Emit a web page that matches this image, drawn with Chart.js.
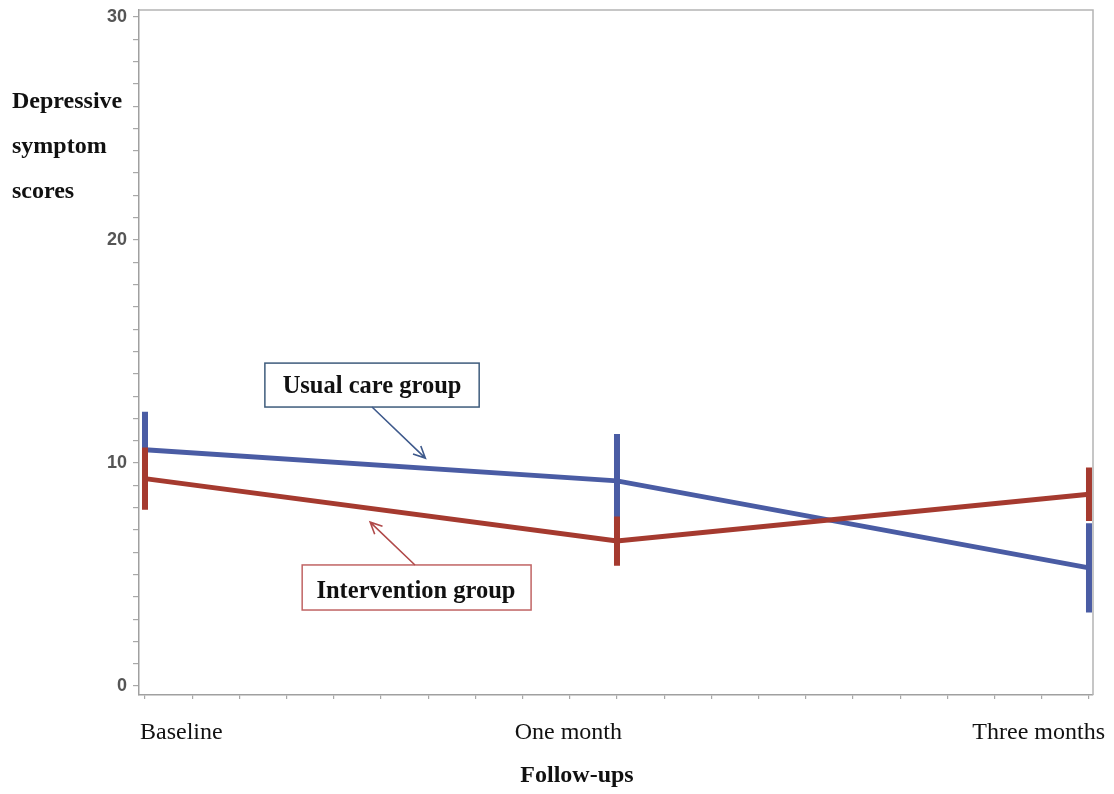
<!DOCTYPE html>
<html>
<head>
<meta charset="utf-8">
<script src="https://cdn.jsdelivr.net/npm/chart.js@4"></script>
<style>
  html, body { margin: 0; padding: 0; background: #ffffff; }
  #wrap { width: 1114px; height: 794px; position: relative; }
</style>
</head>
<body>
<div id="wrap"><canvas id="chart"></canvas></div>
<script>
// Follow-up time points (x positions 0, 1, 2 on a linear axis)
const categories = ['Baseline', 'One month', 'Three months'];

// Mean depressive symptom scores and half-widths of the error bars
const usualMean = [10.6, 9.2, 5.3];
const usualErr = [1.7, 2.1, 2.0];
const interventionMean = [9.3, 6.5, 8.6];
const interventionErr = [1.4, 1.1, 1.2];

// Labelled y ticks (minor ticks every 1 unit)
const yTickLabels = [0, 10, 20, 30];

const yTitleLines = ['Depressive', 'symptom', 'scores'];
const xTitle = 'Follow-ups';

const BLUE = '#4a5ca4';
const RED = '#a53a2f';

const toPoints = means => means.map((m, i) => ({ x: i, y: m }));
function errorBarPoints(means, errs) {
  const pts = [];
  means.forEach((m, i) => {
    pts.push({ x: i, y: m - errs[i] }, { x: i, y: m + errs[i] }, { x: i, y: null });
  });
  return pts;
}

// Callout boxes with arrows, placed in data units
const callouts = [
  {
    text: 'Usual care group', color: '#3e5c7c', arrowColor: '#3f5a8c',
    box: { x0: 0.254, x1: 0.708, y0: 14.48, y1: 12.51 },
    textAt: { x: 0.481, y: 13.12 },
    arrow: { from: { x: 0.481, y: 12.51 }, to: { x: 0.594, y: 10.22 } }
  },
  {
    text: 'Intervention group', color: '#c06464', arrowColor: '#b04a4a',
    box: { x0: 0.333, x1: 0.818, y0: 5.43, y1: 3.41 },
    textAt: { x: 0.574, y: 3.97 },
    arrow: { from: { x: 0.572, y: 5.43 }, to: { x: 0.477, y: 7.35 } }
  }
];

const decorPlugin = {
  id: 'decor',
  afterDraw(chart) {
    const ctx = chart.ctx;
    const { left, top, right, bottom } = chart.chartArea;
    const xs = chart.scales.x, ys = chart.scales.y;
    ctx.save();

    // top and right edges of the frame
    ctx.strokeStyle = '#b4b4b4';
    ctx.lineWidth = 1.5;
    ctx.beginPath();
    ctx.moveTo(left, top);
    ctx.lineTo(right, top);
    ctx.lineTo(right, bottom);
    ctx.stroke();

    // y-axis title, three horizontal lines
    ctx.fillStyle = '#111111';
    ctx.font = 'bold 24px "Liberation Serif"';
    ctx.textAlign = 'left';
    ctx.textBaseline = 'alphabetic';
    yTitleLines.forEach((line, i) => ctx.fillText(line, 12, 108 + i * 45));

    // category labels under the x axis
    ctx.font = '24px "Liberation Serif"';
    const labelAlign = ['left', 'right', 'right'];
    const labelShift = [-5, 5, 16];
    categories.forEach((c, i) => {
      ctx.textAlign = labelAlign[i];
      ctx.fillText(c, xs.getPixelForValue(i) + labelShift[i], 739);
    });

    // x-axis title
    ctx.font = 'bold 24px "Liberation Serif"';
    ctx.textAlign = 'center';
    ctx.fillText(xTitle, 577, 782);

    // callouts
    callouts.forEach(c => {
      const bx0 = xs.getPixelForValue(c.box.x0), bx1 = xs.getPixelForValue(c.box.x1);
      const by0 = ys.getPixelForValue(c.box.y0), by1 = ys.getPixelForValue(c.box.y1);
      ctx.fillStyle = '#ffffff';
      ctx.fillRect(bx0, by0, bx1 - bx0, by1 - by0);
      ctx.strokeStyle = c.color;
      ctx.lineWidth = 1.5;
      ctx.strokeRect(bx0, by0, bx1 - bx0, by1 - by0);

      ctx.fillStyle = '#111111';
      ctx.font = 'bold 24.5px "Liberation Serif"';
      ctx.textAlign = 'center';
      ctx.fillText(c.text, xs.getPixelForValue(c.textAt.x), ys.getPixelForValue(c.textAt.y));

      const fx = xs.getPixelForValue(c.arrow.from.x), fy = ys.getPixelForValue(c.arrow.from.y);
      const tx = xs.getPixelForValue(c.arrow.to.x), ty = ys.getPixelForValue(c.arrow.to.y);
      const ang = Math.atan2(ty - fy, tx - fx);
      const head = 13, spread = Math.PI / 7;
      ctx.strokeStyle = c.arrowColor;
      ctx.lineWidth = 1.6;
      ctx.beginPath();
      ctx.moveTo(fx, fy);
      ctx.lineTo(tx, ty);
      ctx.moveTo(tx - head * Math.cos(ang - spread), ty - head * Math.sin(ang - spread));
      ctx.lineTo(tx, ty);
      ctx.lineTo(tx - head * Math.cos(ang + spread), ty - head * Math.sin(ang + spread));
      ctx.stroke();
    });

    ctx.restore();
  }
};

new Chart(document.getElementById('chart'), {
  type: 'line',
  data: {
    datasets: [
      { label: 'Usual care group', data: toPoints(usualMean), borderColor: BLUE, borderWidth: 5, order: 4 },
      { label: 'Usual care error', data: errorBarPoints(usualMean, usualErr), borderColor: BLUE, borderWidth: 6, order: 3 },
      { label: 'Intervention group', data: toPoints(interventionMean), borderColor: RED, borderWidth: 5, order: 2 },
      { label: 'Intervention error', data: errorBarPoints(interventionMean, interventionErr), borderColor: RED, borderWidth: 6, order: 1 }
    ]
  },
  options: {
    responsive: true,
    maintainAspectRatio: false,
    animation: false,
    spanGaps: false,
    layout: { padding: { top: 10, right: 21, left: 0, bottom: 0 } },
    elements: {
      point: { radius: 0, hoverRadius: 0 },
      line: { tension: 0, borderCapStyle: 'butt', fill: false }
    },
    plugins: { legend: { display: false }, tooltip: { enabled: false } },
    scales: {
      x: {
        type: 'linear',
        min: -0.0127,
        max: 2.0085,
        afterBuildTicks(s) {
          const t = [];
          for (let i = 0; i <= 20; i++) t.push({ value: i / 10 });
          s.ticks = t;
        },
        afterFit(s) { s.height = 99; s.paddingLeft = 0; s.paddingRight = 0; },
        ticks: { display: false },
        grid: { drawOnChartArea: false, drawTicks: true, tickLength: 4, color: '#a8a8a8', lineWidth: 1.2 },
        border: { color: '#a0a0a0', width: 1.5 }
      },
      y: {
        type: 'linear',
        min: -0.4,
        max: 30.31,
        afterBuildTicks(s) {
          const t = [];
          for (let v = 0; v <= 30; v++) t.push({ value: v });
          s.ticks = t;
        },
        afterFit(s) { s.width = 139; s.paddingTop = 0; s.paddingBottom = 0; },
        ticks: {
          autoSkip: false,
          padding: 6,
          color: '#555555',
          font: { family: '"Liberation Sans"', size: 18, weight: 'bold' },
          callback: v => (yTickLabels.includes(v) ? String(v) : '')
        },
        grid: { drawOnChartArea: false, drawTicks: true, tickLength: 6, color: '#a8a8a8', lineWidth: 1.2 },
        border: { color: '#a0a0a0', width: 1.5 }
      }
    }
  },
  plugins: [decorPlugin]
});
</script>
</body>
</html>
